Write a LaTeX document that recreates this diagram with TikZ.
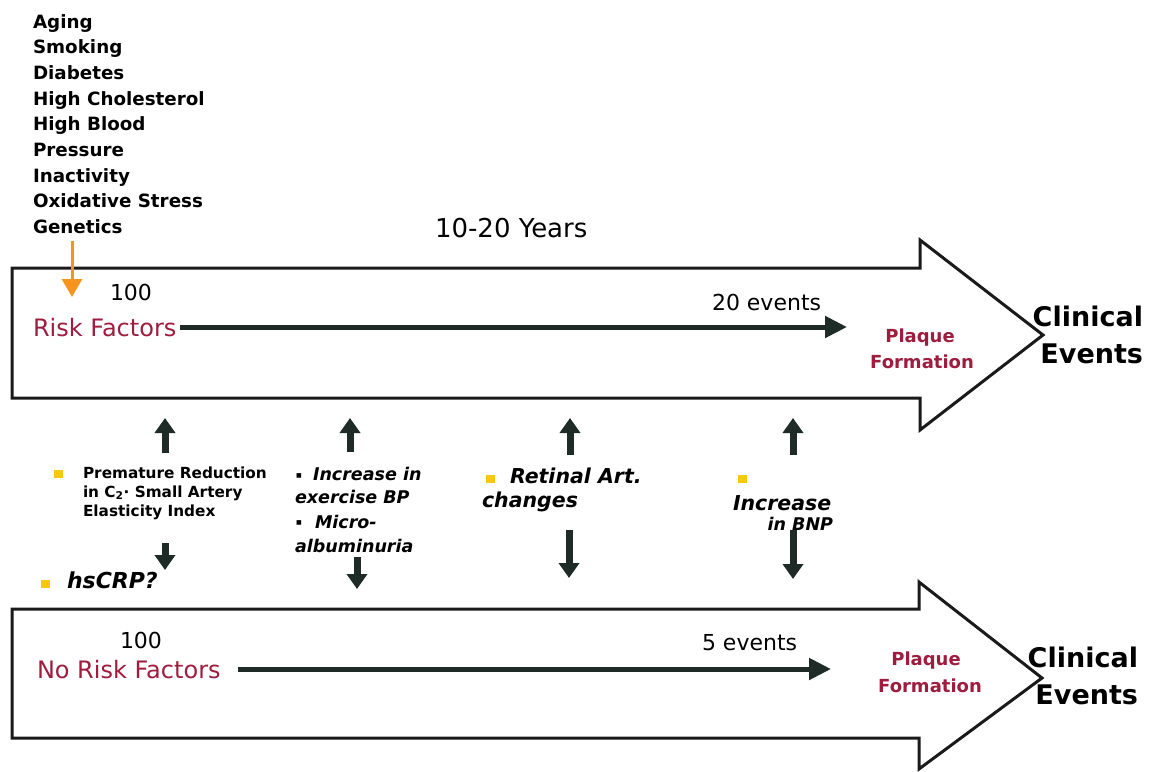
\documentclass[tikz,border=0pt]{standalone}
\usepackage{fontspec}
\setmainfont{DejaVu Sans}
\usetikzlibrary{arrows.meta}
\definecolor{dred}{RGB}{158,28,62}
\definecolor{darr}{RGB}{30,43,39}
\definecolor{orng}{RGB}{247,148,29}
\definecolor{ylw}{RGB}{249,200,14}
\definecolor{outl}{RGB}{26,26,26}
\tikzset{
  txt/.style={anchor=base west,inner sep=0pt,outer sep=0pt},
  txte/.style={anchor=base east,inner sep=0pt,outer sep=0pt},
  txtc/.style={anchor=base,inner sep=0pt,outer sep=0pt},
  listitem/.style={txt,font=\fontsize{18.3}{22}\selectfont\bfseries},
  plain/.style={font=\fontsize{#1}{#1}\selectfont},
  redlabel/.style={text=dred,font=\fontsize{24}{24}\selectfont},
  plaque/.style={txtc,text=dred,font=\fontsize{18}{18}\selectfont\bfseries},
  clinical/.style={txte,font=\fontsize{27}{27}\selectfont\bfseries},
  marker/.style={txt,font=\fontsize{#1}{#1}\selectfont\bfseries\itshape},
  ysq/.style={fill=ylw,draw=none,minimum width=9pt,minimum height=8pt,inner sep=0pt},
  dot/.style={txtc,font=\fontsize{6}{6}\selectfont},
  bigarrow/.style={draw=outl,line width=3pt,line join=miter,fill=white},
  flow/.style={draw=darr,line width=5pt,-{Triangle[width=21pt,length=22pt]}},
  vert/.style={draw=darr,line width=7pt,-{Triangle[width=20pt,length=15pt]}},
  feed/.style={draw=orng,line width=3pt,-{Triangle[width=20pt,length=18pt]}}
}
\begin{document}
\begin{tikzpicture}[x=1pt,y=-1pt]
\useasboundingbox (0,0) rectangle (1158,771);
% big outlined arrows
\draw[bigarrow] (12,268) -- (920,268) -- (920,240) -- (1043,335) -- (920,430) -- (920,398) -- (12,398) -- cycle;
\draw[bigarrow] (12,609) -- (919,609) -- (919,582) -- (1042,678) -- (919,769) -- (919,738) -- (12,738) -- cycle;

% risk factor list
\foreach \t [count=\i] in {Aging,Smoking,Diabetes,High Cholesterol,High Blood,Pressure,Inactivity,Oxidative Stress,Genetics}
  \node[listitem] (rf\i) at (33,{28+(\i-1)*25.7}) {\t};

\node[txt,plain=26] (years) at (435,237) {10-20 Years};

% top band
\node[txt,plain=22] (n100a) at (110,300) {100};
\node[txt,redlabel] (rfac) at (33,336) {Risk Factors};
\node[txt,plain=22] (ev20) at (712,310) {20 events};
\node[plaque] (plq1) at (920,342) {Plaque};
\node[plaque] (frm1) at (922,368) {Formation};
\node[clinical] (cl1) at (1143,326) {Clinical};
\node[clinical] (evt1) at (1143,363) {Events};

% bottom band
\node[txt,plain=22] (n100b) at (120,648) {100};
\node[txt,redlabel] (nrfac) at (37,678) {No Risk Factors};
\node[txt,plain=22] (ev5) at (702,650) {5 events};
\node[plaque] (plq2) at (926,665) {Plaque};
\node[plaque] (frm2) at (930,692) {Formation};
\node[clinical] (cl2) at (1138,667) {Clinical};
\node[clinical] (evt2) at (1138,704) {Events};

% flow arrows
\coordinate (a1s) at (180,327);
\coordinate (a1e) at (847,327);
\draw[flow] (a1s) -- (a1e);
\coordinate (a2s) at (238,669);
\coordinate (a2e) at (831,669);
\draw[flow] (a2s) -- (a2e);

% orange feed arrow
\coordinate (fs) at (72,241);
\coordinate (fe) at (72,297);
\draw[feed] (fs) -- (fe);

% markers
\node[ysq] (b1) at (58,474) {};
\node[marker=15,font=\fontsize{15.3}{15}\selectfont\bfseries] (pm1) at (83,478) {Premature Reduction};
\node[marker=15,font=\fontsize{15.3}{15}\selectfont\bfseries] (pm2) at (83,497) {in C\textsubscript{2}· Small Artery};
\node[marker=15,font=\fontsize{15.3}{15}\selectfont\bfseries] (pm3) at (83,516) {Elasticity Index};
\node[ysq] (b2) at (45,584) {};
\node[marker=22] (crp) at (67,588) {hsCRP?};

\node[dot] (d1) at (299,477) {■};
\node[marker=17.5] (inc1) at (313,480) {Increase in};
\node[marker=17.5] (inc2) at (295,503) {exercise BP};
\node[dot] (d2) at (299,524) {■};
\node[marker=17.5] (mic1) at (315,528) {Micro-};
\node[marker=17.5] (mic2) at (295,552) {albuminuria};

\node[ysq] (b3) at (490,479) {};
\node[marker=20.5] (ret1) at (510,483) {Retinal Art.};
\node[marker=20.5] (ret2) at (482,507) {changes};

\node[ysq] (b4) at (742,479) {};
\node[marker=20.5] (bnp1) at (733,510) {Increase};
\node[txte,font=\fontsize{17.5}{17.5}\selectfont\bfseries\itshape] (bnp2) at (833,530) {in BNP};

% vertical arrows
\foreach \n/\x/\ua/\ub in {1/165/453/418, 2/350/452/418, 3/570/455/418, 4/793/455/418}{
  \coordinate (u\n s) at (\x,\ua);
  \coordinate (u\n e) at (\x,\ub);
  \draw[vert] (u\n s) -- (u\n e);
}
\coordinate (d1s) at (165,543); \coordinate (d1e) at (165,570);
\coordinate (d2s) at (357,557); \coordinate (d2e) at (357,589);
\coordinate (d3s) at (569,530); \coordinate (d3e) at (569,578);
\coordinate (d4s) at (793,530); \coordinate (d4e) at (793,579);
\foreach \n in {1,2,3,4} \draw[vert] (d\n s) -- (d\n e);
\end{tikzpicture}
\end{document}
